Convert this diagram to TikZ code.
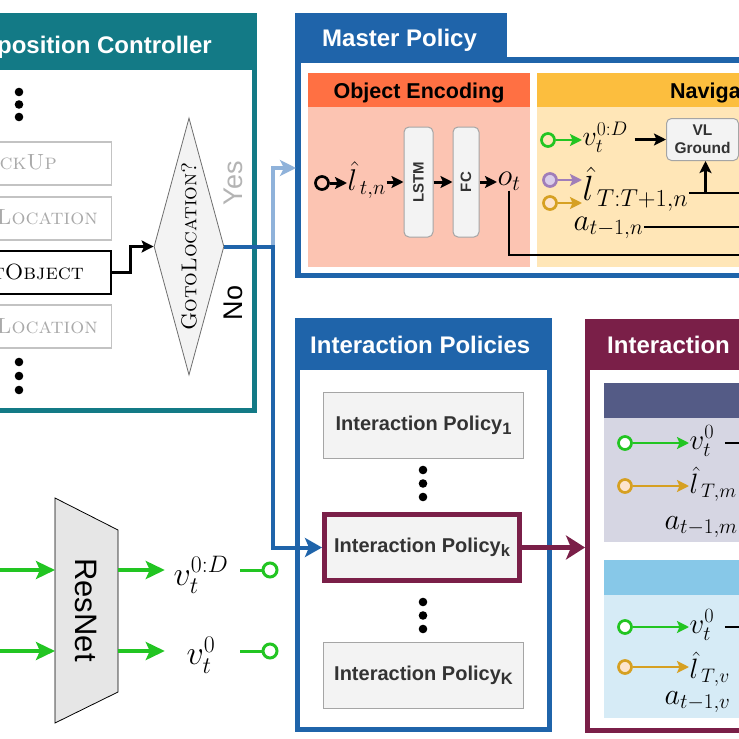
\RequirePackage{fix-cm}
\documentclass[tikz,border=0pt]{standalone}
\usepackage{fontspec}
\setsansfont{Liberation Sans}
\usetikzlibrary{arrows.meta,shapes.geometric,calc}
\definecolor{tealc}{RGB}{19,122,134}
\definecolor{mpb}{RGB}{31,100,170}
\definecolor{lbl}{RGB}{143,178,218}
\definecolor{marc}{RGB}{122,31,72}
\definecolor{oeh}{RGB}{255,112,67}
\definecolor{oeb}{RGB}{252,196,178}
\definecolor{nvh}{RGB}{252,190,62}
\definecolor{nvb}{RGB}{255,230,183}
\definecolor{s1h}{RGB}{84,91,134}
\definecolor{s1b}{RGB}{214,214,227}
\definecolor{s2h}{RGB}{135,200,232}
\definecolor{s2b}{RGB}{214,235,246}
\definecolor{grn}{RGB}{34,197,34}
\definecolor{purd}{RGB}{160,125,185}
\definecolor{purf}{RGB}{218,205,234}
\definecolor{gldd}{RGB}{214,160,34}
\definecolor{gldf}{RGB}{253,228,205}
\definecolor{boxf}{RGB}{243,243,243}
\definecolor{boxd}{RGB}{165,165,165}
\definecolor{scg}{RGB}{170,170,170}
\definecolor{scbd}{RGB}{195,195,195}
\definecolor{txg}{RGB}{51,51,51}
\definecolor{yesg}{RGB}{180,180,180}
\definecolor{rnf}{RGB}{230,230,230}
\definecolor{dmdd}{RGB}{110,110,110}
\newcommand\ipsub[1]{\raisebox{-0.22em}{\fontsize{16.5}{16.5}\selectfont #1}}
\begin{document}
\begin{tikzpicture}[x=1pt,y=-1pt,
  hdr/.style={font=\fontsize{24}{24}\selectfont\sffamily\bfseries, text=white, inner sep=0},
  subhdr/.style={font=\fontsize{21.5}{21.5}\selectfont\sffamily\bfseries, text=black, inner sep=0},
  sctxt/.style={font=\fontsize{22}{22}\selectfont\scshape, text=scg, inner sep=0},
  scbox/.style={draw=scbd, line width=1.5, minimum width=170, minimum height=43, inner sep=0},
  pbox/.style={draw=boxd, fill=boxf, rounded corners=5, line width=1, inner sep=0},
  rotlbl/.style={rotate=90, font=\fontsize{15}{15}\selectfont\sffamily\bfseries, text=txg, inner sep=0},
  ipbox/.style={draw=boxd, fill=boxf, line width=1, minimum width=200, minimum height=66, inner sep=0,
     font=\fontsize{20}{20}\selectfont\sffamily\bfseries, text=txg},
  dmd/.style={diamond, draw=dmdd, fill=boxf, line width=0.8,
     minimum width=70, minimum height=257, inner sep=0},
  mth/.style={font=\fontsize{#1}{#1}\selectfont, inner sep=0.5},
  circ/.style={circle, draw=#1, line width=2.7, minimum size=13, inner sep=0},
  karr/.style={draw=black, line width=3, -{Stealth[length=12pt,width=12pt,inset=2.5pt]}},
  kline/.style={draw=black, line width=2.8},
  sarr/.style={draw=#1, line width=2.8, -{Stealth[length=12pt,width=12pt,inset=2.5pt]}},
  lbarr/.style={draw=lbl, line width=4, -{Stealth[length=16pt,width=16pt,inset=4pt]}},
  dbarr/.style={draw=mpb, line width=4, -{Stealth[length=17pt,width=19pt,inset=4pt]}},
  mararr/.style={draw=marc, line width=5, -{Stealth[length=19pt,width=24pt,inset=5pt]}},
  garr/.style={draw=grn, line width=3.5, -{Stealth[length=19pt,width=18pt,inset=4pt]}},
  gline/.style={draw=grn, line width=3}
]
\useasboundingbox (0,0) rectangle (739,739);
\clip (0,0) rectangle (739,739);
\fill[white] (0,0) rectangle (739,739);

% ---------------- Decomposition controller (cropped) ----------------
\fill[tealc] (-20,13) rectangle (257,413);
\fill[white] (-20,70) rectangle (252,408);
\node[hdr, anchor=base east] (schd) at (212,53) {position Controller};
\foreach \yy in {92,104.5,117,362,376,390} \fill (19,\yy) circle (4.3);
\node[scbox, anchor=north east] (pick) at (112,141) {};
\node[sctxt, anchor=base east] (pickt) at (57,169) {ickUp};
\node[scbox, anchor=north east] (loca) at (112,196) {};
\node[sctxt, anchor=base east] (locat) at (98,224) {Location};
\node[scbox, draw=black, line width=2, anchor=north east] (tobj) at (112,250) {};
\node[sctxt, text=black, anchor=base east] (tobjt) at (84,279) {tObject};
\node[scbox, anchor=north east] (locb) at (112,304) {};
\node[sctxt, anchor=base east] (locbt) at (98,333) {Location};
\node[dmd] (goto) at (189,246.5) {};
\node[rotate=90, font=\fontsize{21.5}{21.5}\selectfont\scshape, inner sep=0] (gotot) at (189,246.5) {GotoLocation?};
\node[rotate=90, font=\fontsize{27}{27}\selectfont\sffamily, text=yesg, inner sep=0] (yes) at (233,183) {Yes};
\node[rotate=90, font=\fontsize{27}{27}\selectfont\sffamily, text=black, inner sep=0] (no) at (233,303) {No};
\draw[karr] (tobj.east) -- ++(18,0) |- (goto.west);

% ---------------- Master policy ----------------
\fill[mpb] (295,13) rectangle (507,60);
\fill[mpb] (295,57) rectangle (760,278);
\fill[white] (301,63) rectangle (760,272.5);
\node[hdr, anchor=base west] (mphd) at (322,46.5) {Master Policy};
\fill[oeh] (308,73) rectangle (530,107);
\fill[oeb] (308,107) rectangle (530,267);
\node[subhdr, anchor=base] (oehd) at (419,98) {Object Encoding};
\fill[nvh] (537,73) rectangle (760,107);
\fill[nvb] (537,107) rectangle (760,267);
\node[subhdr, anchor=base west] (nvhd) at (670,98) {Naviga};

% object encoding
\node[circ=black] (c0) at (322,183) {};
\node[mth=30, anchor=west] (ltn) at (347,180) {$\hat{l}_{\,t,n}$};
\node[pbox, minimum width=29, minimum height=110] (lstm) at (418.5,182) {};
\node[rotlbl] (lstmt) at (lstm) {LSTM};
\node[pbox, minimum width=26, minimum height=110] (fc) at (466,182) {};
\node[rotlbl] (fct) at (fc) {FC};
\node[mth=31, anchor=west] (ot) at (497,181) {$o_t$};
\draw[karr] (c0) -- (c0 -| ltn.west);
\draw[karr] (ltn.east |- lstm.west) -- (lstm.west);
\draw[karr] (lstm) -- (fc);
\draw[karr] (fc.east) -- (fc.east -| ot.west);
\coordinate (otR) at (760,255);
\draw[kline] (ot.south) |- (otR);

% navigation
\node[circ=grn] (g1) at (548,140) {};
\node[mth=28, anchor=west] (vnav) at (582,137) {$v_t^{0:D}$};
\node[pbox, anchor=north west, minimum width=72, minimum height=42, align=center,
      font=\fontsize{15.5}{18}\selectfont\sffamily\bfseries, text=txg] (vl) at (666,118) {VL\\Ground};
\node[circ=purd, fill=purf] (pc) at (550,180) {};
\node[circ=gldd, fill=gldf] (oc) at (550,203) {};
\node[mth=35, anchor=west] (lnav) at (582,189) {$\hat{l}_{\,T:T+1,n}$};
\node[mth=31, anchor=west] (anav) at (573,228) {$a_{t-1,n}$};
\draw[sarr=grn] (g1) -- (g1 -| vnav.west);
\draw[karr, shorten <=6pt] (vnav.east |- vl.west) -- (vl.west);
\draw[sarr=purd] (pc) -- (pc -| lnav.west);
\draw[sarr=gldd] (oc) -- (oc -| lnav.west);
\coordinate (lR) at (760,193);
\draw[kline] (lR -| lnav.east) -- (lR);
\draw[karr] ($(vl.south |- lR)+(3,0)$) -- ($(vl.south)+(3,0)$);
\coordinate (aR) at (760,227);
\draw[kline] (anav.east |- aR) -- (aR);

% ---------------- Interaction policies ----------------
\fill[mpb] (295,318) rectangle (552,732);
\fill[white] (300,370) rectangle (547,727);
\node[hdr, anchor=base west] (iphd) at (310,353) {Interaction Policies};
\node[ipbox, anchor=north west] (ipa) at (323,392) {Interaction Policy\ipsub{1}};
\node[ipbox, draw=marc, line width=5, minimum width=195, minimum height=66] (ipk) at (422,547.5) {Interaction Policy\ipsub{k}};
\node[ipbox, anchor=north west] (ipz) at (323,642) {Interaction Policy\ipsub{K}};
\foreach \yy in {470,483.5,497,602,615.5,629} \fill (423,\yy) circle (4.3);

% ---------------- Interaction (cropped) ----------------
\fill[marc] (585,319) rectangle (760,733);
\fill[white] (590,370) rectangle (760,728);
\node[hdr, anchor=base west] (inhd) at (607,353) {Interaction};
\fill[s1h] (604,383) rectangle (760,418);
\fill[s1b] (604,418) rectangle (760,542);
\fill[s2h] (604,560) rectangle (760,595);
\fill[s2b] (604,595) rectangle (760,718);

\node[circ=grn, fill=white] (g2) at (625,443) {};
\node[mth=29, anchor=west] (v2) at (689,441) {$v_t^0$};
\node[circ=gldd, fill=gldf] (o2) at (625,486) {};
\node[mth=28, anchor=west] (l2) at (689,484) {$\hat{l}_{\,T,m}$};
\node[mth=30, anchor=west] (a2) at (664,527) {$a_{t-1,m}$};
\draw[sarr=grn] (g2) -- (g2 -| v2.west);
\draw[sarr=gldd] (o2) -- (o2 -| l2.west);
\coordinate (v2R) at (760,443);
\draw[kline, shorten <=10pt] (v2.east |- v2R) -- (v2R);

\node[circ=grn, fill=white] (g3) at (625,627) {};
\node[mth=29, anchor=west] (v3) at (689,625) {$v_t^0$};
\node[circ=gldd, fill=gldf] (o3) at (625,667) {};
\node[mth=28, anchor=west] (l3) at (689,669) {$\hat{l}_{\,T,v}$};
\node[mth=30, anchor=west] (a3) at (664,702) {$a_{t-1,v}$};
\draw[sarr=grn] (g3) -- (g3 -| v3.west);
\draw[sarr=gldd] (o3) -- (o3 -| l3.west);
\coordinate (v3R) at (760,627);
\draw[kline, shorten <=10pt] (v3.east |- v3R) -- (v3R);

% ---------------- ResNet ----------------
\filldraw[fill=rnf, draw=black, line width=0.8] (55,498) -- (118,530) -- (118,692) -- (55,723) -- cycle;
\node[rotate=-90, font=\fontsize{31}{31}\selectfont\sffamily, inner sep=0] (rn) at (86,610) {ResNet};
\coordinate (gLa) at (-5,570);
\coordinate (gLb) at (-5,651);
\coordinate (rIa) at (55,570);
\coordinate (rIb) at (55,651);
\coordinate (rOa) at (118,570);
\coordinate (rOb) at (118,651);
\node[mth=34, minimum width=72] (vba) at (201,575) {$v_t^{0:D}$};
\node[mth=34, minimum width=72] (vbb) at (201,655) {$v_t^0$};
\node[circ=grn, line width=3, minimum size=14] (gba) at (270,570) {};
\node[circ=grn, line width=3, minimum size=14] (gbb) at (270,651) {};
\draw[garr] (gLa) -- (rIa);
\draw[garr] (gLb) -- (rIb);
\draw[garr] (rOa) -- (rOa -| vba.west);
\draw[garr] (rOb) -- (rOb -| vbb.west);
\draw[gline, shorten <=3pt] (vba.east |- gba) -- (gba);
\draw[gline, shorten <=3pt] (vbb.east |- gbb) -- (gbb);

% ---------------- routing connectors ----------------
\coordinate (jn) at (273,246.5);
\coordinate (mpin) at (296,168);
\coordinate (ibin) at (585,547.5);
\draw[lbarr] (jn) |- (mpin);
\draw[dbarr] (goto.east) -- (jn) |- (ipk.west);
\draw[mararr] (ipk.east) -- (ibin);
\end{tikzpicture}
\end{document}
